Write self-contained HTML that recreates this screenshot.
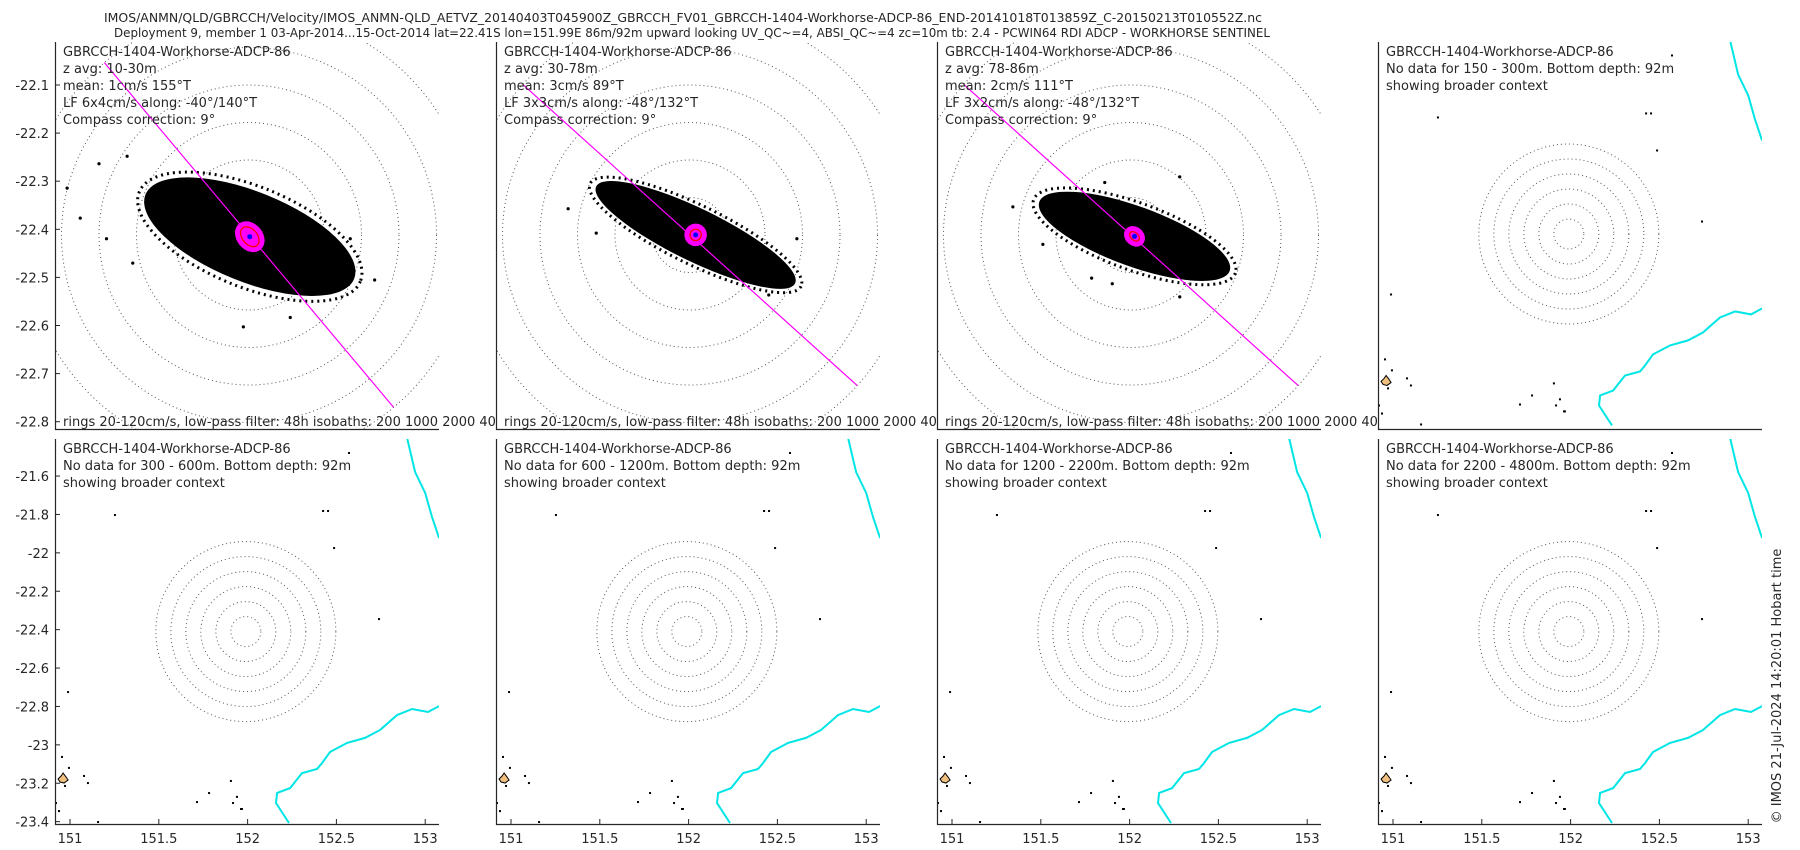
<!DOCTYPE html>
<html><head><meta charset="utf-8"><title>GBRCCH ADCP velocity</title>
<style>
html,body{margin:0;padding:0;background:#fff;}
svg{display:block;font-family:"DejaVu Sans","Liberation Sans",sans-serif;}
text{fill:#262626;}
</style></head>
<body>
<svg id="fig" width="1800" height="850" viewBox="0 0 1800 850" xmlns="http://www.w3.org/2000/svg">
<defs id="defs"></defs>
<rect x="0" y="0" width="1800" height="850" fill="#fff"/>
<text x="683" y="22" font-size="12" text-anchor="middle" textLength="1158" lengthAdjust="spacingAndGlyphs">IMOS/ANMN/QLD/GBRCCH/Velocity/IMOS_ANMN-QLD_AETVZ_20140403T045900Z_GBRCCH_FV01_GBRCCH-1404-Workhorse-ADCP-86_END-20141018T013859Z_C-20150213T010552Z.nc</text>
<text x="692" y="37" font-size="12" text-anchor="middle" textLength="1156" lengthAdjust="spacingAndGlyphs">Deployment 9, member 1 03-Apr-2014...15-Oct-2014 lat=22.41S lon=151.99E 86m/92m upward looking UV_QC~=4, ABSI_QC~=4 zc=10m tb: 2.4 - PCWIN64 RDI ADCP - WORKHORSE SENTINEL</text>
<g id="panels"></g>
<text transform="translate(1781,686) rotate(-90)" font-size="13" text-anchor="middle">© IMOS 21-Jul-2024 14:20:01 Hobart time</text>
</svg>
<script>
// ---------- data ----------
const zRanges = ['10-30m', '30-78m', '78-86m'];
const meanSpeed = [1, 3, 2];
const meanDir = [155, 89, 111];
const lfMajor = [6, 3, 3];
const lfMinor = [4, 3, 2];
const alongNeg = [-40, -48, -48];
const alongDir = [140, 132, 132];
const cloudMajor = [60, 59, 54];
const cloudMinor = [24, 14, 16];
const cloudDir = [112, 116, 110];
const outU1 = [-97, -90, -76, -80, -62, 67, -3, 22, 54, -65];
const outV1 = [25, 9, -2, 38, -15, -24, -49, -44, -2, 42];
const outU2 = [-65, -50, 42, 57];
const outV2 = [14, 1, -32, -2];
const outU3 = [-63, 26, -14, -21, -10, 26, -47];
const outV3 = [15, 31, 28, -23, -26, -33, -5];
const ringSpeeds = [20, 40, 60, 80, 100, 120];
const noDataRanges = ['150 - 300m', '300 - 600m', '600 - 1200m', '1200 - 2200m', '2200 - 4800m'];
const latTicksTop = [-22.1, -22.2, -22.3, -22.4, -22.5, -22.6, -22.7, -22.8];
const latTicksBottom = [-21.6, -21.8, -22, -22.2, -22.4, -22.6, -22.8, -23, -23.2, -23.4];
const lonTicks = [151, 151.5, 152, 152.5, 153];
const mooringLon = 151.99;
const mooringLat = -22.41;
const coastLowLon = [153.078, 153.016, 152.926, 152.841, 152.745, 152.661, 152.560, 152.464, 152.419, 152.391, 152.306, 152.239, 152.166, 152.160, 152.233];
const coastLowLat = [-22.798, -22.829, -22.813, -22.845, -22.923, -22.964, -22.990, -23.037, -23.095, -23.126, -23.147, -23.225, -23.251, -23.303, -23.407];
const coastHighLon = [152.898, 152.943, 153.000, 153.038, 153.078];
const coastHighLat = [-21.402, -21.579, -21.688, -21.813, -21.923];
const reefLon = [151.253, 150.989, 150.955, 150.994, 151.079, 151.101, 150.972, 150.921, 150.938, 151.906, 151.783, 151.715, 151.940, 151.918, 151.963, 151.158, 152.571, 152.425, 152.453, 152.487, 152.740, 151.968];
const reefLat = [-21.803, -22.725, -23.063, -23.120, -23.162, -23.199, -23.214, -23.303, -23.345, -23.188, -23.251, -23.298, -23.271, -23.303, -23.334, -23.402, -21.480, -21.782, -21.782, -21.975, -22.345, -23.334];
const islandLon = 150.961;
const islandLat = -23.178;

// ---------- layout ----------
const NS = 'http://www.w3.org/2000/svg';
const panelsG = document.getElementById('panels');
const defs = document.getElementById('defs');
const colLeft = c => 55 + 441 * c;
const PW = 384;
const rowTop = [42, 439];
const rowH = [387, 385];
const lonPx = 177.6, latPx = 192, lonLeft = 150.9155;
const mapLatTop = [-21.41, -21.407];
const topLatTop = -22.0106, topLatPx = 481;
const dataScale = 1.875;
const mapScale = 0.75;

function el(tag, attrs, parent) {
  const e = document.createElementNS(NS, tag);
  for (const k in attrs) e.setAttribute(k, attrs[k]);
  (parent || panelsG).appendChild(e);
  return e;
}
function dirVec(b) { const r = b * Math.PI / 180; return [Math.sin(r), -Math.cos(r)]; }

let clipN = 0;
function makePanel(col, row, name) {
  const x = colLeft(col), y = rowTop[row], h = rowH[row];
  const g = el('g', {});
  
  
  const bg = el('rect', {x: x, y: y, width: PW, height: h, fill: '#fff'}, g);
  
  
  const id = 'clip' + (clipN++);
  const cp = el('clipPath', {id: id}, defs);
  el('rect', {x: x, y: y, width: PW, height: h}, cp);
  const inner = el('g', {'clip-path': 'url(#' + id + ')'}, g);
  return {g, inner, x, y, h};
}
function axes(p) {
  const a = el('path', {d: `M${p.x + 0.5},${p.y} V${p.y + p.h + 0.5} H${p.x + PW}`, stroke: '#262626', 'stroke-width': 1.2, fill: 'none'}, p.g);
  
  
}
function rings(parent, cx, cy, scale) {
  ringSpeeds.forEach(s => {
    const c = el('circle', {cx: cx, cy: cy, r: s * scale, fill: 'none', stroke: '#555', 'stroke-width': 1, 'stroke-dasharray': '1 3'}, parent);
    
    
  });
}
function textLines(p, lines, y0) {
  lines.forEach((t, i) => {
    const tx = el('text', {x: p.x + 8, y: y0 + 17 * i, 'font-size': 13}, p.g);
    tx.textContent = t;
    
    
  });
}

// ---------- data panels ----------
const outU = [outU1, outU2, outU3], outV = [outV1, outV2, outV3];
for (let i = 0; i < 3; i++) {
  const p = makePanel(i, 0, 'velocity-panel-' + (i + 1));
  const cx = p.x + 194, cy = 235;
  const mv = dirVec(meanDir[i]);
  const mx = cx + mv[0] * meanSpeed[i] * dataScale, my = cy + mv[1] * meanSpeed[i] * dataScale;
  rings(p.inner, cx, cy, dataScale);
  const rot = cloudDir[i] - 90;
  const rx = cloudMajor[i] * dataScale, ry = cloudMinor[i] * dataScale;
  const edge = el('ellipse', {cx: mx, cy: my, rx: rx * 1.06, ry: ry * 1.12, fill: 'none', stroke: '#000', 'stroke-width': 3, 'stroke-dasharray': '2 4', transform: `rotate(${rot} ${mx} ${my})`}, p.inner);
  
  
  const core = el('ellipse', {cx: mx, cy: my, rx: rx, ry: ry, fill: '#000', transform: `rotate(${rot} ${mx} ${my})`}, p.inner);
  
  
  outU[i].forEach((u, k) => {
    const d = el('circle', {cx: cx + u * dataScale, cy: cy - outV[i][k] * dataScale, r: 1.6, fill: '#000'}, p.inner);
    
    
  });
  const av = dirVec(alongDir[i]);
  const L = 120 * dataScale;
  const ln = el('line', {x1: cx - av[0] * L, y1: cy - av[1] * L, x2: cx + av[0] * L, y2: cy + av[1] * L, stroke: '#ff00ff', 'stroke-width': 1.2}, p.inner);
  
  
  const arot = alongDir[i] - 90;
  const lf = el('ellipse', {cx: mx, cy: my, rx: (lfMajor[i] + 3) * dataScale, ry: (lfMinor[i] + 3) * dataScale, fill: '#ff00ff', transform: `rotate(${arot} ${mx} ${my})`}, p.inner);
  
  
  const re = el('ellipse', {cx: mx, cy: my, rx: lfMajor[i] * dataScale, ry: lfMinor[i] * dataScale, fill: 'none', stroke: '#ff0000', 'stroke-width': 1.3, transform: `rotate(${arot} ${mx} ${my})`}, p.inner);
  
  
  const bd = el('circle', {cx: mx, cy: my, r: 2.5, fill: '#0000ff'}, p.inner);
  
  
  axes(p);
  textLines(p, ['GBRCCH-1404-Workhorse-ADCP-86', 'z avg: ' + zRanges[i], 'mean: ' + meanSpeed[i] + 'cm/s ' + meanDir[i] + '°T', 'LF ' + lfMajor[i] + 'x' + lfMinor[i] + 'cm/s along: ' + alongNeg[i] + '°/' + alongDir[i] + '°T', 'Compass correction: 9°'], 56);
  const ft = el('text', {x: p.x + 8, y: 426, 'font-size': 13}, p.g);
  ft.textContent = 'rings 20-120cm/s, low-pass filter: 48h isobaths: 200 1000 2000 4000';
  
  
  if (i === 0) {
    latTicksTop.forEach(t => {
      const ty = p.y + (topLatTop - t) * topLatPx;
      const tk = el('line', {x1: p.x, x2: p.x + 5, y1: ty, y2: ty, stroke: '#262626'}, panelsG);
      
      
      const tl = el('text', {x: p.x - 6, y: ty + 5, 'font-size': 13, 'text-anchor': 'end'}, panelsG);
      tl.textContent = String(t);
      
      
    });
  }
}

// ---------- context map panels ----------
function mapPanel(col, row, idx) {
  const p = makePanel(col, row, 'context-map-panel-' + (idx + 1));
  const latTop = mapLatTop[row];
  const X = lon => p.x + (lon - lonLeft) * lonPx;
  const Y = lat => p.y + (latTop - lat) * latPx;
  rings(p.inner, X(mooringLon), Y(mooringLat), mapScale);
  [[coastLowLon, coastLowLat], [coastHighLon, coastHighLat]].forEach(([lo, la]) => {
    const d = lo.map((v, k) => (k ? 'L' : 'M') + X(v).toFixed(1) + ',' + Y(la[k]).toFixed(1)).join(' ');
    const c = el('path', {d: d, stroke: '#00e5e5', 'stroke-width': 2, fill: 'none'}, p.inner);
    
    
  });
  reefLon.forEach((lo, k) => {
    const r = el('rect', {x: X(lo) - 1, y: Y(reefLat[k]) - 1, width: 2, height: 2, fill: '#000'}, p.inner);
    
    
  });
  const ix = X(islandLon), iy = Y(islandLat);
  const isl = el('path', {d: `M${ix - 5},${iy} L${ix - 2},${iy - 3} L${ix},${iy - 6} L${ix + 3},${iy - 2} L${ix + 5},${iy + 1} L${ix + 1},${iy + 4} L${ix - 3},${iy + 3} Z`, fill: '#f0c080', stroke: '#000', 'stroke-width': 1}, p.inner);
  
  
  axes(p);
  textLines(p, ['GBRCCH-1404-Workhorse-ADCP-86', 'No data for ' + noDataRanges[idx] + '. Bottom depth: 92m', 'showing broader context'], p.y + 14);
  if (row === 1) {
    lonTicks.forEach(t => {
      const tx = X(t);
      const tk = el('line', {x1: tx, x2: tx, y1: p.y + p.h, y2: p.y + p.h - 5, stroke: '#262626'}, panelsG);
      
      
      const tl = el('text', {x: tx, y: 843, 'font-size': 13, 'text-anchor': 'middle'}, panelsG);
      tl.textContent = String(t);
      
      
    });
    if (col === 0) {
      latTicksBottom.forEach(t => {
        const ty = Y(t);
        const tk = el('line', {x1: p.x, x2: p.x + 5, y1: ty, y2: ty, stroke: '#262626'}, panelsG);
        
        
        const tl = el('text', {x: p.x - 6, y: ty + 5, 'font-size': 13, 'text-anchor': 'end'}, panelsG);
        tl.textContent = String(t);
        
        
      });
    }
  }
}
mapPanel(3, 0, 0);
mapPanel(0, 1, 1);
mapPanel(1, 1, 2);
mapPanel(2, 1, 3);
mapPanel(3, 1, 4);
</script>
</body></html>
